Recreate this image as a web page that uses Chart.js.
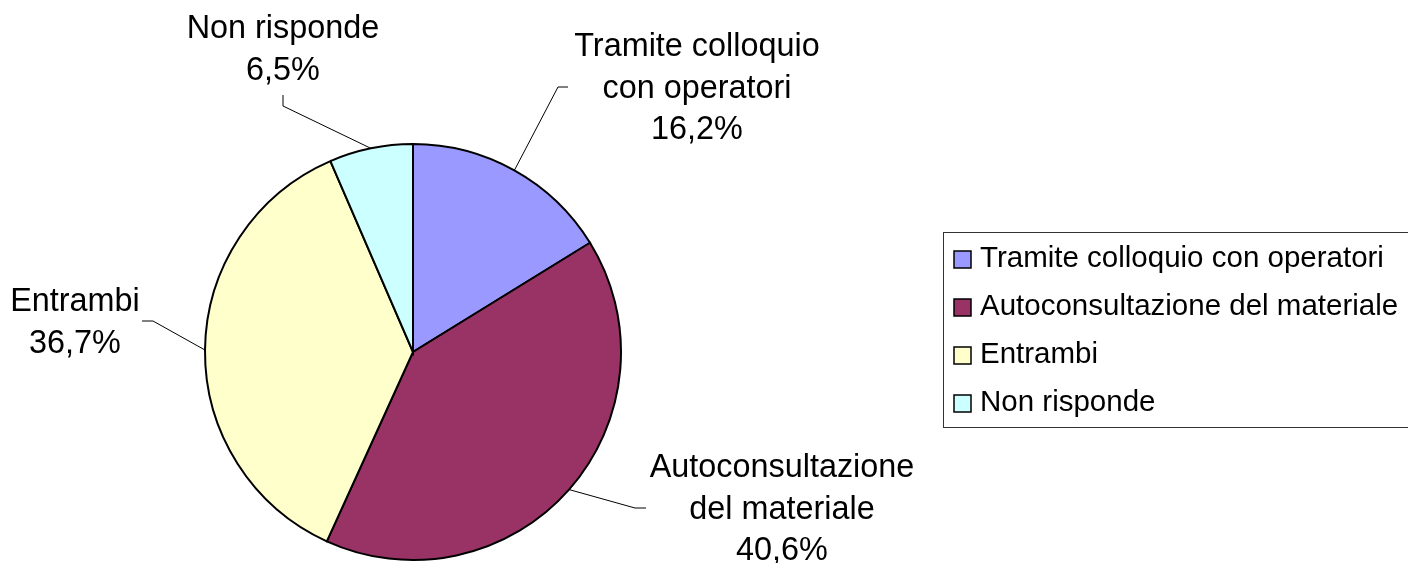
<!DOCTYPE html>
<html>
<head>
<meta charset="utf-8">
<script src="https://cdn.jsdelivr.net/npm/chart.js@4.4.0/dist/chart.umd.min.js"></script>
<style>
  html, body { margin: 0; padding: 0; background: #fff; }
  #wrap { width: 1408px; height: 563px; position: relative; }
</style>
</head>
<body>
<div id="wrap"><canvas id="pieChart"></canvas></div>
<script>
/* data */
var categories = ['Tramite colloquio con operatori', 'Autoconsultazione del materiale', 'Entrambi', 'Non risponde'];
var shortLabels = [['Tramite colloquio', 'con operatori'], ['Autoconsultazione', 'del materiale'], ['Entrambi'], ['Non risponde']];
var shares = [16.2, 40.6, 36.7, 6.5];
var sliceColors = ['#9999FF', '#993366', '#FFFFCC', '#CCFFFF'];

/* where each outside label sits: text centre x, first baseline, elbow of the leader line */
var labelLayout = [
    { x: 697, y: 56, elbow: [558, 87], tail: [568, 87] },
    { x: 782, y: 477, elbow: [635, 508], tail: [646, 508] },
    { x: 75, y: 311, elbow: [153, 321], tail: [142, 321] },
    { x: 283, y: 38, elbow: [283, 106], tail: [283, 95] }
];

var FONT = "'Liberation Sans', Arial, sans-serif";

function pct(v) {
    return v.toFixed(1).replace('.', ',') + '%';
}

/* leader lines + outside labels */
var outsideLabels = {
    id: 'outsideLabels',
    afterDatasetsDraw: function (chart) {
        var c = chart.ctx;
        var meta = chart.getDatasetMeta(0);
        c.save();
        meta.data.forEach(function (arc, i) {
            var p = arc.getProps(['x', 'y', 'startAngle', 'endAngle', 'outerRadius'], true);
            var mid = (p.startAngle + p.endAngle) / 2;
            var sx = p.x + Math.cos(mid) * p.outerRadius;
            var sy = p.y + Math.sin(mid) * p.outerRadius;
            var L = labelLayout[i];
            c.strokeStyle = '#000';
            c.lineWidth = 1;
            c.beginPath();
            c.moveTo(sx, sy);
            c.lineTo(L.elbow[0], L.elbow[1]);
            c.lineTo(L.tail[0], L.tail[1]);
            c.stroke();

            var lines = shortLabels[i].concat([pct(chart.data.datasets[0].data[i])]);
            c.fillStyle = '#000';
            c.font = '32.4px ' + FONT;
            c.textAlign = 'center';
            c.textBaseline = 'alphabetic';
            lines.forEach(function (t, k) {
                c.fillText(t, L.x, L.y + k * 41.5);
            });
        });
        c.restore();
    }
};

/* boxed legend on the right, Excel style */
var boxLegend = {
    id: 'boxLegend',
    afterDraw: function (chart) {
        var c = chart.ctx;
        c.save();
        c.strokeStyle = '#333';
        c.lineWidth = 1;
        c.strokeRect(943.5, 232.5, 480, 195);
        c.font = '29.5px ' + FONT;
        c.textAlign = 'left';
        c.textBaseline = 'alphabetic';
        chart.data.labels.forEach(function (lab, i) {
            var top = 251 + i * 48;
            c.fillStyle = chart.data.datasets[0].backgroundColor[i];
            c.fillRect(954, top, 17, 17);
            c.strokeStyle = '#000';
            c.lineWidth = 1.5;
            c.strokeRect(954, top, 17, 17);
            c.fillStyle = '#000';
            c.fillText(lab, 980, 267 + i * 48);
        });
        c.restore();
    }
};

new Chart(document.getElementById('pieChart'), {
    type: 'pie',
    data: {
        labels: categories,
        datasets: [{
            data: shares,
            backgroundColor: sliceColors,
            borderColor: '#000',
            borderWidth: 2,
            borderJoinStyle: 'miter'
        }]
    },
    options: {
        responsive: true,
        maintainAspectRatio: false,
        animation: false,
        layout: { padding: { left: 204, right: 786, top: 143, bottom: 2 } },
        plugins: {
            legend: { display: false },
            tooltip: { enabled: false }
        }
    },
    plugins: [outsideLabels, boxLegend]
});
</script>
</body>
</html>
